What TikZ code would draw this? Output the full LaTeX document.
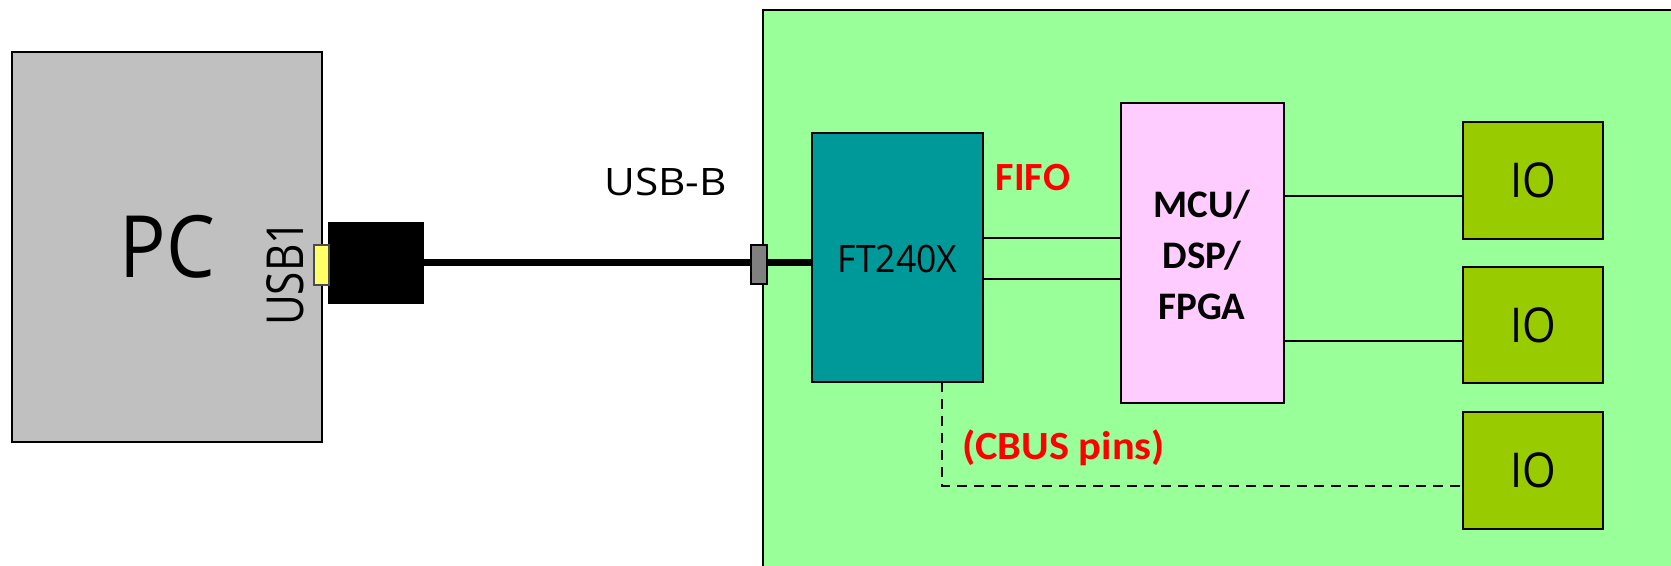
\documentclass[tikz,border=0pt]{standalone}
\usepackage{fontspec}
\usepackage{graphicx}
\setmainfont{Open Sans}
\newfontfamily\calfont{Carlito}
\usetikzlibrary{calc}
\definecolor{pcgray}{HTML}{C0C0C0}
\definecolor{boardgreen}{HTML}{99FF99}
\definecolor{ftteal}{HTML}{009999}
\definecolor{mcupink}{HTML}{FFCCFF}
\definecolor{iogreen}{HTML}{99CC00}
\definecolor{usbyellow}{HTML}{FFFF66}
\definecolor{conngray}{HTML}{808080}
\definecolor{labelred}{HTML}{FF0000}
\newcommand{\fs}[1]{\fontsize{#1}{#1}\selectfont}
\newcommand{\hs}[2]{\scalebox{#1}[1]{#2}}
\begin{document}
\begin{tikzpicture}[x=0.5pt,y=-0.5pt,
  box/.style={draw=black,line width=1pt,inner sep=0pt,outer sep=0pt},
  wire/.style={draw=black,line width=1.2pt},
  lbl/.style={inner sep=0pt,outer sep=0pt,align=center},
  redlbl/.style={lbl,text=labelred,font=\calfont\bfseries\fs{20}}]
\useasboundingbox (0,0) rectangle (1671,566);
\clip (0,0) rectangle (1671,566);
% PC
\node[box,fill=pcgray,minimum width=155pt,minimum height=195pt] (pc) at (167,247) {};
\node[lbl,font=\fs{43}] (pclbl) at (167.5,247) {\hs{0.9}{PC}};
\node[lbl,font=\fs{25.5},rotate=90] (usb1) at (285,273) {\hs{0.83}{USB1}};
% board
\node[draw=black,line width=1pt,fill=boardgreen,minimum width=460pt,minimum height=290pt,anchor=north west,inner sep=0pt] (board) at (762,9) {};
% cable
\node[box,fill=black,minimum width=47pt,minimum height=40pt] (plug) at (376,263) {};
\node[box,draw=black!70,line width=0.6pt,fill=usbyellow,minimum width=7.5pt,minimum height=20pt] (usbport) at (321.5,265) {};
% chips
\node[box,fill=ftteal,minimum width=85.5pt,minimum height=124.5pt] (ft) at (897.5,257.5) {};
\node[lbl,font=\fs{18.9}] (ftlbl) at (897.5,259) {\hs{0.94}{FT240X}};
\draw[line width=3.5pt] (plug.east) -- (plug.east -| ft.west);
\node[box,fill=conngray,line width=0.8pt,minimum width=8pt,minimum height=19.5pt] (bconn) at (759,264.5) {};
\node[box,fill=mcupink,minimum width=81.5pt,minimum height=150pt] (mcu) at (1202.5,253) {};
\node[lbl,font=\calfont\bfseries\fs{19.5},align=center] (mculbl) at (1202,255) {MCU/\\[6pt]DSP/\\[6pt]FPGA};
\node[box,fill=iogreen,minimum width=70pt,minimum height=58.5pt] (io1) at (1533,180.5) {};
\node[box,fill=iogreen,minimum width=70pt,minimum height=58pt] (io2) at (1533,325) {};
\node[box,fill=iogreen,minimum width=70pt,minimum height=58.5pt] (io3) at (1533,470.5) {};
\node[lbl,font=\fs{24}] (io1lbl) at (io1) {\hs{0.9}{IO}};
\node[lbl,font=\fs{24}] (io2lbl) at (io2) {\hs{0.9}{IO}};
\node[lbl,font=\fs{24}] (io3lbl) at (io3) {\hs{0.9}{IO}};
% labels
\node[lbl,font=\fs{18.9}] (usbb) at (665.5,182) {\hs{1.12}{USB-B}};
\node[redlbl] (fifo) at (1033,178) {FIFO};
\node[redlbl] (cbus) at (1063.5,448) {\hs{1.06}{(CBUS pins)}};
% connections
\coordinate (f1) at ($(ft.north east)+(0,105)$);
\coordinate (f2) at ($(ft.north east)+(0,146)$);
\draw[wire] (f1) -- (f1 -| mcu.west);
\draw[wire] (f2) -- (f2 -| mcu.west);
\coordinate (m1) at ($(io1.north west)+(0,74)$);
\coordinate (m2) at ($(io2.north west)+(0,74)$);
\draw[wire] (m1 -| mcu.east) -- (m1);
\draw[wire] (m2 -| mcu.east) -- (m2);
\coordinate (d0) at ($(ft.south)+(44.5,0)$);
\coordinate (d1) at ($(io3.west)+(0,15.5)$);
\draw[wire,line width=1pt,dash pattern=on 5pt off 3.5pt] (d0) |- (d1);
\end{tikzpicture}
\end{document}
